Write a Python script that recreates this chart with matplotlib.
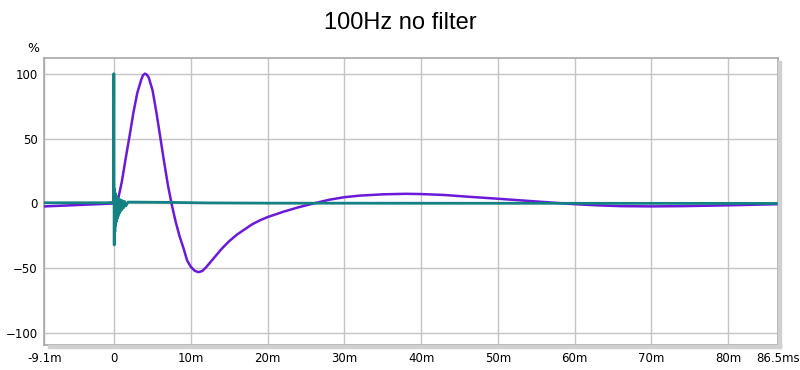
import matplotlib
matplotlib.use("Agg")
import matplotlib.pyplot as plt
from matplotlib.patches import Rectangle

# purple trace: time (ms), level (%)
purple_t = [-9.1, -7, -5, -3, -1, 0, 0.5, 1.0, 1.5, 2.0, 2.5, 3.0, 3.5, 3.75,
            4.0, 4.25, 4.5, 5.0, 5.5, 6.0, 6.5, 7.0, 7.5, 8.0, 8.5, 9.0, 9.5,
            10.0, 10.5, 11.0, 11.5, 12.0, 13.0, 14.0, 15.0, 16.0, 17.0, 18.0,
            19.0, 20.0, 22.0, 24.0, 26.0, 28.0, 30.0, 32.0, 35.0, 38.0, 40.0,
            43.0, 46.0, 50.0, 55.0, 60.0, 63.0, 66.0, 70.0, 74.0, 78.0, 82.0,
            86.5]
purple_v = [-2.3, -1.8, -1.3, -0.8, -0.3, 0, 3, 17, 35, 52, 70, 85, 95, 98.8,
            100, 99.2, 97, 87, 70, 51, 32, 14, -1, -14, -25, -34, -44,
            -49, -52, -53, -52, -49, -42, -35, -29, -24, -20, -16,
            -13, -10.5, -6.5, -3, 0, 2.8, 4.8, 6, 7, 7.4, 7.2,
            6.5, 5.2, 3.6, 1.5, -0.6, -1.5, -2.1, -2.3, -2.1, -1.7, -1.2,
            -0.6]

# teal trace: time (ms), level (%)
teal_t = [-9.1, -1, -0.1, -0.05, -0.02, 0.0, 0.04, 0.08, 0.12, 0.17, 0.22,
          0.27, 0.32, 0.37, 0.43, 0.49, 0.56, 0.63, 0.71, 0.79, 0.88, 0.97,
          1.08, 1.2, 1.35, 1.5, 1.8, 2.5, 7.0, 12.0, 20.0, 86.5]
teal_v = [0.5, 0.5, 0.8, 100, 3, -32, 11, -22, 8, -17, 6,
          -14, 5, -12, 4, -10, 3.5, -8, 3, -6, 2.5, -5, 2,
          -3.5, 1.5, -2, 1, 1, 0.8, 0.4, 0.2, 0]

x_ticks = [-9.1, 0, 10, 20, 30, 40, 50, 60, 70, 80, 86.5]
x_labels = ["-9.1m", "0", "10m", "20m", "30m", "40m", "50m", "60m", "70m",
            "80m", "86.5ms"]
y_ticks = [-100, -50, 0, 50, 100]

fig = plt.figure(figsize=(8, 3.7), dpi=100)
ax = fig.add_axes([0.0555, 0.068, 0.917, 0.775])

ax.plot(purple_t, purple_v, color="#6a1ad8", lw=1.8, zorder=3)
ax.plot(teal_t, teal_v, color="#148282", lw=2.0, zorder=4)

ax.set_xlim(-9.1, 86.5)
ax.set_ylim(-109, 112)
ax.set_xticks(x_ticks)
ax.set_xticklabels(x_labels)
ax.set_yticks(y_ticks)
ax.grid(True, color="#c4c4c4", lw=1)
ax.tick_params(axis="both", length=0, labelsize=8.5, pad=5, colors="black")
for label in ax.get_xticklabels() + ax.get_yticklabels():
    label.set_fontfamily("DejaVu Sans")
for s in ax.spines.values():
    s.set_color("#a8a8a8")
    s.set_linewidth(1.2)

# shadow on right and bottom of the frame
bb = ax.get_position()
fig.patches.append(Rectangle((bb.x1, bb.y0 - 0.008), 0.004, bb.height,
                             transform=fig.transFigure, color="#d0d0d0",
                             zorder=0))
fig.patches.append(Rectangle((bb.x0 + 0.004, bb.y0 - 0.008), bb.width, 0.008,
                             transform=fig.transFigure, color="#d0d0d0",
                             zorder=0))

fig.text(0.5, 0.938, "100Hz no filter", ha="center", va="center",
         fontsize=17, family="Liberation Sans")
fig.text(0.041, 0.868, "%", ha="center", va="center", fontsize=9,
         family="DejaVu Sans")

fig.savefig("out.png", dpi=100)
